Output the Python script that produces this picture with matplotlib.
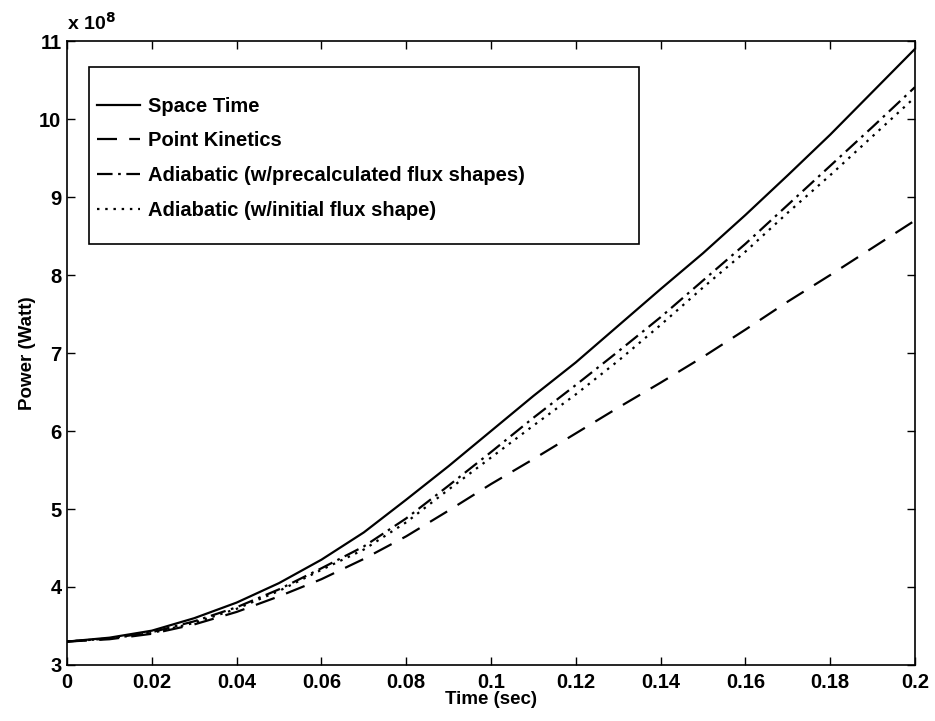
import matplotlib
matplotlib.use("Agg")
import matplotlib.pyplot as plt
from matplotlib.patches import Rectangle

plt.rcParams['font.family'] = ['Liberation Sans', 'DejaVu Sans']
plt.rcParams['font.weight'] = 'bold'
plt.rcParams['axes.labelweight'] = 'bold'
plt.rcParams['mathtext.default'] = 'bf'

time = [0.00, 0.01, 0.02, 0.03, 0.04, 0.05, 0.06, 0.07, 0.08, 0.09, 0.10,
        0.11, 0.12, 0.13, 0.14, 0.15, 0.16, 0.17, 0.18, 0.19, 0.20]

space_time = [3.30, 3.35, 3.44, 3.60, 3.80, 4.05, 4.35, 4.70, 5.12, 5.55, 6.00,
              6.45, 6.88, 7.35, 7.82, 8.28, 8.77, 9.28, 9.80, 10.35, 10.90]

point_kinetics = [3.30, 3.33, 3.40, 3.52, 3.68, 3.88, 4.10, 4.36, 4.65, 4.98, 5.32,
                  5.64, 5.97, 6.30, 6.62, 6.95, 7.30, 7.66, 8.00, 8.35, 8.70]

adiabatic_precalc = [3.30, 3.34, 3.42, 3.56, 3.74, 3.97, 4.24, 4.52, 4.88, 5.30, 5.73,
                     6.17, 6.59, 7.02, 7.46, 7.93, 8.40, 8.90, 9.40, 9.90, 10.41]

adiabatic_initial = [3.30, 3.34, 3.41, 3.54, 3.72, 3.95, 4.22, 4.48, 4.83, 5.25, 5.66,
                     6.07, 6.47, 6.90, 7.36, 7.84, 8.30, 8.80, 9.28, 9.78, 10.28]

labels = ["Space Time", "Point Kinetics",
          "Adiabatic (w/precalculated flux shapes)",
          "Adiabatic (w/initial flux shape)"]

xticks = [0, 0.02, 0.04, 0.06, 0.08, 0.1, 0.12, 0.14, 0.16, 0.18, 0.2]
xticklabels = ["0", "0.02", "0.04", "0.06", "0.08", "0.1", "0.12", "0.14", "0.16", "0.18", "0.2"]
yticks = [3, 4, 5, 6, 7, 8, 9, 10, 11]

fig = plt.figure(figsize=(9.35, 7.21), dpi=100)
ax = fig.add_axes([0.0717, 0.0777, 0.9069, 0.8653])

lw = 1.6
ax.plot(time, space_time, color='black', lw=lw, linestyle='-', label=labels[0])
ax.plot(time, point_kinetics, color='black', lw=lw, linestyle=(0, (9, 5.5)), label=labels[1])
ax.plot(time, adiabatic_precalc, color='black', lw=lw, linestyle=(0, (7, 2.5, 1.2, 2.5)), label=labels[2])
ax.plot(time, adiabatic_initial, color='black', lw=lw, linestyle=(0, (1.1, 2.6)), label=labels[3])

ax.set_xlim(0, 0.2)
ax.set_ylim(3, 11)
ax.set_xticks(xticks)
ax.set_xticklabels(xticklabels)
ax.set_yticks(yticks)
ax.tick_params(direction='in', length=5.5, width=1.0, top=True, right=True,
               labelsize=14.5)
ax.tick_params(axis='x', pad=6)
ax.tick_params(axis='y', pad=4)
for s in ax.spines.values():
    s.set_linewidth(1.2)

ax.set_xlabel("Time (sec)", fontsize=13.5, fontweight='bold', labelpad=-1)
ax.set_ylabel("Power (Watt)", fontsize=13.5, fontweight='bold', labelpad=2)

ax.text(0.0, 1.012, r"x 10$^{8}$", transform=ax.transAxes, fontsize=14,
        ha='left', va='bottom')

# legend box
ax.add_patch(Rectangle((0.026, 0.6747), 0.6486, 0.2837, transform=ax.transAxes,
                       fill=True, facecolor='white', edgecolor='black', lw=1.2, zorder=4))
leg = ax.legend(loc='upper left', bbox_to_anchor=(0.035, 0.911), frameon=False,
                prop={'size': 14.5, 'weight': 'bold'}, handlelength=2.15, handletextpad=0.4,
                labelspacing=0.78, borderaxespad=0, borderpad=0)
leg.set_zorder(5)

fig.savefig("out.png", dpi=100)
